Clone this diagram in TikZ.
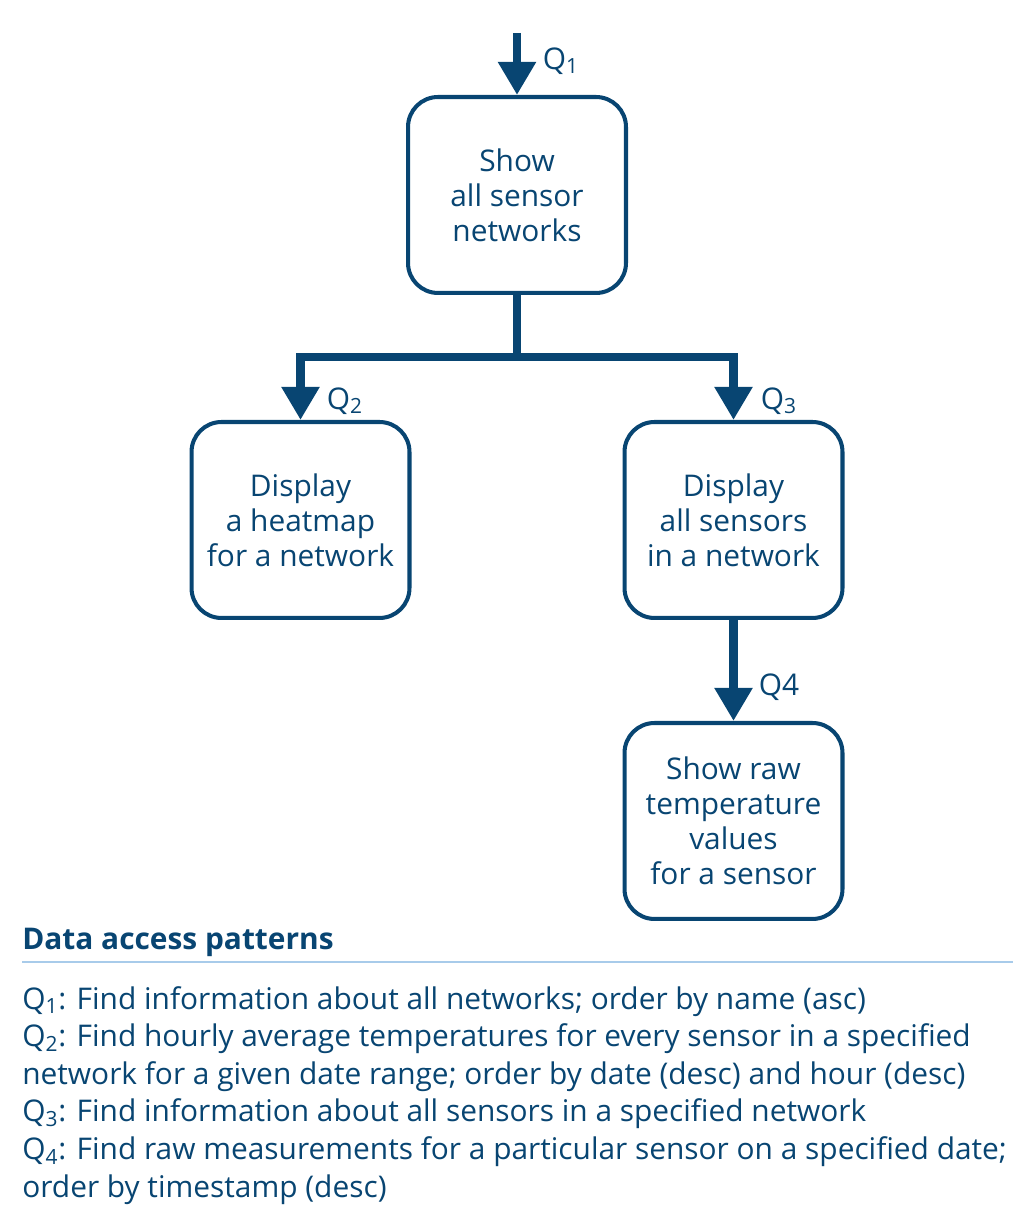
\documentclass[tikz,border=0pt]{standalone}
\usepackage{fontspec}
\setmainfont{Open Sans}
\usetikzlibrary{arrows.meta,positioning}

\definecolor{navy}{RGB}{8,69,114}
\definecolor{paleblue}{RGB}{168,203,234}

\tikzset{
  query/.style={draw=navy, line width=2.3pt, rounded corners=0.6cm,
    minimum width=4.36cm, minimum height=3.92cm, inner sep=0pt,
    align=center, text=navy, font=\fontsize{17}{20}\selectfont},
  flow/.style={draw=navy, line width=4.8pt,
    -{Triangle[width=0.72cm,length=0.66cm]}},
  qlabel/.style={text=navy, font=\fontsize{17}{18}\selectfont},
}

\begin{document}
\begin{tikzpicture}[x=0.02cm,y=0.02cm]
\useasboundingbox (0,0) rectangle (1023,1213);
% query boxes
\node[query] (net) at (517,1018) {Show\\all sensor\\networks};
\node[query] (heat) at (300.5,693) {Display\\a heatmap\\for a network};
\node[query] (sens) at (733.5,693) {Display\\all sensors\\in a network};
\node[query] (raw) at (733.5,392) {Show raw\\temperature\\values\\for a sensor};
% connectors
\coordinate (entry) at (517,1180);
\coordinate (fork) at (517,856);
\draw[flow] (entry) -- (net.north);
\draw[navy, line width=4.8pt] (net.south) -- (fork);
\draw[flow] (fork) -| (heat.north);
\draw[flow] (fork) -| (sens.north);
\draw[flow] (sens.south) -- (raw.north);
\node[qlabel] (q1) at (561,1152) {Q\textsubscript{1}};
\node[qlabel] (q2) at (345,812) {Q\textsubscript{2}};
\node[qlabel] (q3) at (779,812) {Q\textsubscript{3}};
\node[qlabel] (q4) at (779,526) {Q4};
% legend
\node[anchor=west, inner sep=0pt, text=navy, font=\fontsize{17}{20}\selectfont\bfseries]
  (pat) at (22,271) {Data access patterns};
\draw[paleblue, line width=1.2pt] (22,251) -- (1013,251);
\node[anchor=north west, inner sep=0pt, align=left, text=navy,
  font=\fontsize{17}{21.4}\selectfont] (legend) at (22,227)
  {Q\textsubscript{1}: Find information about all networks; order by name (asc)\\
   Q\textsubscript{2}: Find hourly average temperatures for every sensor in a specified\\
   network for a given date range; order by date (desc) and hour (desc)\\
   Q\textsubscript{3}: Find information about all sensors in a specified network\\
   Q\textsubscript{4}: Find raw measurements for a particular sensor on a specified date;\\
   order by timestamp (desc)};
\end{tikzpicture}
\end{document}
